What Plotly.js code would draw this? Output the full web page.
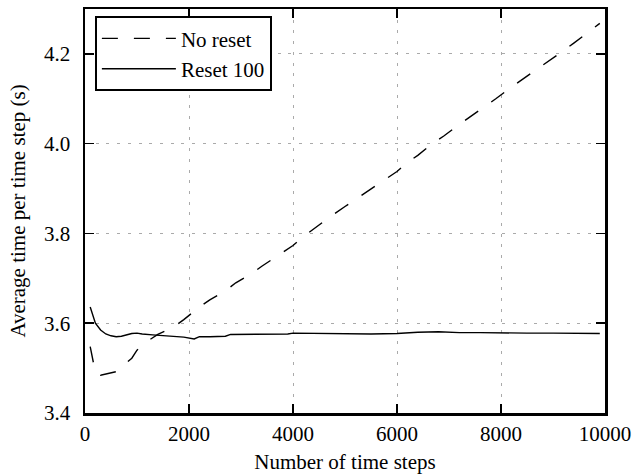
<!DOCTYPE html>
<html>
<head>
<meta charset="utf-8">
<script src="https://cdn.plot.ly/plotly-3.0.1.min.js"></script>
<style>
  html, body { margin: 0; padding: 0; background: #fff; }
  #chart { width: 635px; height: 474px; }
</style>
</head>
<body>
<div id="chart"></div>
<script>
// Average wall time per step, without reset
const stepsNoReset = [100, 200, 300, 400, 500, 600, 700, 800, 900, 1000, 1100, 1200, 1400, 1700, 1900,
  2200, 2400, 2700, 2900, 3200, 3400, 3700, 4000, 4200, 4400, 4700, 5000, 5200, 5500, 5700,
  6000, 6200, 6400, 6700, 6900, 7200, 7400, 7700, 7900, 8200, 8400, 8700, 8900, 9200, 9400,
  9700, 9900];
const timeNoReset = [3.548, 3.490, 3.484, 3.487, 3.490, 3.492, 3.503, 3.512, 3.522, 3.540, 3.551, 3.560,
  3.575, 3.591, 3.608, 3.636, 3.652, 3.672, 3.690, 3.710, 3.727, 3.750, 3.773, 3.793, 3.811,
  3.836, 3.860, 3.876, 3.898, 3.916, 3.938, 3.958, 3.974, 4.002, 4.017, 4.043, 4.059, 4.083,
  4.100, 4.126, 4.142, 4.165, 4.182, 4.207, 4.224, 4.250, 4.268];

// Average wall time per step, reset every 100 steps
const stepsReset = [100, 200, 300, 400, 500, 600, 700, 800, 900, 1000, 1100, 1300, 1500, 1700, 1900,
  2100, 2200, 2400, 2700, 2800, 3000, 3400, 3900, 4000, 4500, 5000, 5500, 6000, 6400, 6800,
  7200, 7600, 8000, 8500, 9000, 9500, 9900];
const timeReset = [3.636, 3.600, 3.585, 3.576, 3.572, 3.570, 3.571, 3.574, 3.577, 3.578, 3.576, 3.574,
  3.572, 3.571, 3.569, 3.565, 3.570, 3.570, 3.571, 3.575, 3.575, 3.575, 3.576, 3.578, 3.577,
  3.577, 3.576, 3.577, 3.580, 3.581, 3.579, 3.579, 3.578, 3.578, 3.578, 3.577, 3.577];

const seriesNames = ["No reset", "Reset 100"];
const xTicks = [0, 2000, 4000, 6000, 8000, 10000];
const yTicks = [3.4, 3.6, 3.8, 4.0, 4.2];

const serif = "Liberation Serif";
const fs = 21;

const traces = [
  {
    x: stepsNoReset, y: timeNoReset, name: seriesNames[0], mode: "lines",
    line: { color: "#000", width: 1.4, dash: "16px,16px" }
  },
  {
    x: stepsReset, y: timeReset, name: seriesNames[1], mode: "lines",
    line: { color: "#000", width: 1.4 }
  }
];

const axisCommon = {
  showline: true, linecolor: "#000", linewidth: 2.5, mirror: "ticks",
  ticks: "inside", ticklen: 9, tickwidth: 1.5, tickcolor: "#000",
  showgrid: true, gridcolor: "#aaa", gridwidth: 1, griddash: "3px,7.7px",
  zeroline: false,
  tickfont: { family: serif, size: fs, color: "#000" }
};

const layout = {
  width: 635, height: 474,
  margin: { l: 85, r: 30, t: 9, b: 61 },
  paper_bgcolor: "#fff", plot_bgcolor: "#fff",
  showlegend: true,
  legend: {
    x: 0.019, y: 0.982, xanchor: "left", yanchor: "top",
    bordercolor: "#000", borderwidth: 2, bgcolor: "#fff",
    font: { family: serif, size: fs, color: "#000" },
    itemwidth: 74, tracegroupgap: 0, entrywidth: 186
  },
  xaxis: Object.assign({}, axisCommon, {
    range: [0, 10000], tickvals: xTicks, ticktext: xTicks.map(String),
    ticklabelstandoff: 0,
    title: { text: "Number of time steps", font: { family: serif, size: fs, color: "#000" }, standoff: 10 }
  }),
  yaxis: Object.assign({}, axisCommon, {
    range: [3.4, 4.3], tickvals: yTicks, ticktext: yTicks.map(v => v.toFixed(1)),
    ticklabelstandoff: 8,
    title: { text: "Average time per time step (s)", font: { family: serif, size: fs, color: "#000" }, standoff: 13 }
  })
};

Plotly.newPlot("chart", traces, layout, { staticPlot: true, displayModeBar: false });
</script>
</body>
</html>
